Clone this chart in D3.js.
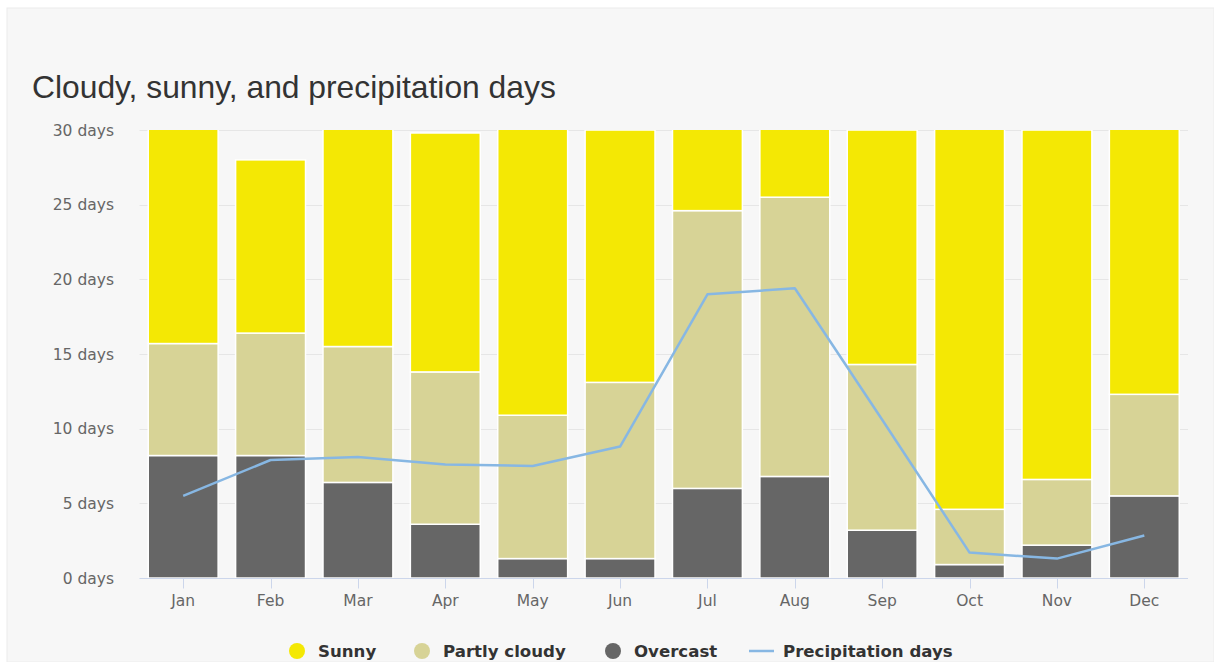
<!DOCTYPE html>
<html>
<head>
<meta charset="utf-8">
<script src="https://cdn.jsdelivr.net/npm/d3@7"></script>
<style>
  body { margin: 0; background: #fff; }
  svg { display: block; }
</style>
</head>
<body>
<div id="chart"></div>
<script>
// monthly cloud cover and precipitation days
const months = ["Jan", "Feb", "Mar", "Apr", "May", "Jun", "Jul", "Aug", "Sep", "Oct", "Nov", "Dec"];
const overcast = [8.2, 8.2, 6.4, 3.6, 1.3, 1.3, 6.0, 6.8, 3.2, 0.9, 2.2, 5.5];
const partlyCloudy = [7.5, 8.2, 9.1, 10.2, 9.6, 11.8, 18.6, 18.7, 11.1, 3.7, 4.4, 6.8];
const sunny = [15.3, 11.6, 15.5, 16.0, 20.1, 16.9, 6.4, 5.5, 15.7, 26.4, 23.4, 18.7];
const precipitation = [5.5, 7.9, 8.1, 7.6, 7.5, 8.8, 19.0, 19.4, 10.6, 1.7, 1.3, 2.85];
const yTicks = [0, 5, 10, 15, 20, 25, 30];

const colors = { "Sunny": "#f4e804", "Partly cloudy": "#d7d396", "Overcast": "#666666" };
const lineColor = "#87b7e3";

const width = 1214, height = 662;
const margin = { top: 130, right: 26, bottom: 84, left: 139.5 };

const rows = months.map((m, i) => ({
  month: m,
  "Overcast": overcast[i],
  "Partly cloudy": partlyCloudy[i],
  "Sunny": sunny[i]
}));

const svg = d3.select("#chart").append("svg")
  .attr("width", width)
  .attr("height", height);

// panel background
svg.append("rect")
  .attr("x", 7).attr("y", 8)
  .attr("width", width - 7).attr("height", height - 8)
  .attr("fill", "#f7f7f7")
  .attr("stroke", "#ececec");

const x = d3.scaleBand()
  .domain(months)
  .range([margin.left, width - margin.right])
  .paddingInner(0.2)
  .paddingOuter(0.1);

const y = d3.scaleLinear()
  .domain([0, 30])
  .range([height - margin.bottom, margin.top]);

svg.append("text")
  .attr("x", 32).attr("y", 98)
  .attr("font-family", "Liberation Sans, Arial, sans-serif")
  .attr("font-size", 31.8)
  .attr("fill", "#333")
  .text("Cloudy, sunny, and precipitation days");

// grid
svg.append("g")
  .selectAll("line")
  .data(yTicks.slice(1))
  .join("line")
  .attr("x1", margin.left).attr("x2", width - margin.right)
  .attr("y1", d => Math.round(y(d)) + 0.5).attr("y2", d => Math.round(y(d)) + 0.5)
  .attr("stroke", "#e6e6e6");

// y labels
svg.append("g")
  .attr("font-family", "DejaVu Sans, Verdana, sans-serif")
  .attr("font-size", 15.5)
  .attr("fill", "#666")
  .attr("text-anchor", "end")
  .selectAll("text")
  .data(yTicks)
  .join("text")
  .attr("x", 114)
  .attr("y", d => y(d) + 5.5)
  .text(d => `${d} days`);

svg.append("clipPath").attr("id", "plot-clip")
  .append("rect")
  .attr("x", margin.left).attr("y", margin.top)
  .attr("width", width - margin.right - margin.left)
  .attr("height", height - margin.bottom - margin.top);

const stacked = d3.stack().keys(["Overcast", "Partly cloudy", "Sunny"])(rows);

svg.append("g")
  .attr("clip-path", "url(#plot-clip)")
  .selectAll("g")
  .data(stacked)
  .join("g")
  .attr("fill", d => colors[d.key])
  .selectAll("rect")
  .data(d => d)
  .join("rect")
  .attr("x", d => x(d.data.month))
  .attr("y", d => y(d[1]))
  .attr("width", x.bandwidth())
  .attr("height", d => y(d[0]) - y(d[1]))
  .attr("stroke", "#fff")
  .attr("stroke-width", 1.5);

// x axis
const axisY = height - margin.bottom + 0.5;
svg.append("line")
  .attr("x1", margin.left).attr("x2", width - margin.right)
  .attr("y1", axisY).attr("y2", axisY)
  .attr("stroke", "#ccd6eb");

const xTicks = svg.append("g");
xTicks.selectAll("line")
  .data(months)
  .join("line")
  .attr("x1", d => Math.round(x(d) + x.bandwidth() / 2) + 0.5)
  .attr("x2", d => Math.round(x(d) + x.bandwidth() / 2) + 0.5)
  .attr("y1", axisY).attr("y2", axisY + 10)
  .attr("stroke", "#ccd6eb");
xTicks.selectAll("text")
  .data(months)
  .join("text")
  .attr("x", d => x(d) + x.bandwidth() / 2)
  .attr("y", 606)
  .attr("text-anchor", "middle")
  .attr("font-family", "DejaVu Sans, Verdana, sans-serif")
  .attr("font-size", 15.5)
  .attr("fill", "#666")
  .text(d => d);

// precipitation line
const line = d3.line()
  .x((d, i) => x(months[i]) + x.bandwidth() / 2)
  .y(d => y(d));

svg.append("path")
  .datum(precipitation)
  .attr("fill", "none")
  .attr("stroke", lineColor)
  .attr("stroke-width", 2.5)
  .attr("stroke-linejoin", "round")
  .attr("d", line);

// legend
const legendItems = [
  { name: "Sunny", type: "dot", x: 297 },
  { name: "Partly cloudy", type: "dot", x: 422 },
  { name: "Overcast", type: "dot", x: 613 },
  { name: "Precipitation days", type: "line", x: 749 }
];
const legend = svg.append("g")
  .attr("font-family", "DejaVu Sans, Verdana, sans-serif")
  .attr("font-size", 16.6)
  .attr("font-weight", "bold")
  .attr("fill", "#333");

legendItems.forEach(item => {
  if (item.type === "dot") {
    legend.append("circle")
      .attr("cx", item.x).attr("cy", 651).attr("r", 8)
      .attr("fill", colors[item.name]);
    legend.append("text")
      .attr("x", item.x + 21).attr("y", 657)
      .text(item.name);
  } else {
    legend.append("line")
      .attr("x1", item.x).attr("x2", item.x + 25)
      .attr("y1", 651).attr("y2", 651)
      .attr("stroke", lineColor).attr("stroke-width", 2.5);
    legend.append("text")
      .attr("x", item.x + 34).attr("y", 657)
      .text(item.name);
  }
});
</script>
</body>
</html>
